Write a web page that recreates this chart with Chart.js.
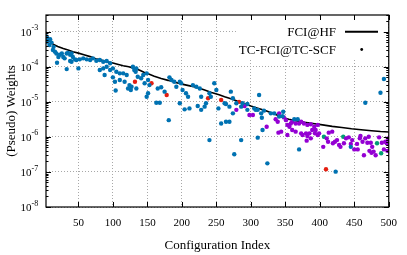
<!DOCTYPE html>
<html lang="en">
<head>
<meta charset="UTF-8">
<title>Weights vs configuration index</title>
<script src="https://cdn.jsdelivr.net/npm/chart.js"></script>
<style>
  body { margin: 0; background: #fff; overflow: hidden; }
  canvas { display: block; }
</style>
</head>
<body>
<canvas id="chart" width="407" height="255"></canvas>
<script>
// FCI@HF reference weights (black line)
const hfIdx = [3,6,10,14,20,28,35,42,50,58,67,75,83,91,100,108,115,123,131,139,145,152,160,170,180,190,200,210,221,232,243,254,262,270,280,290,300,310,322,335,345,355,365,378,390,404,418,432,446,460,475,488,500];
const hfWeight = [7.0e-4,6.0e-4,5.0e-4,4.3e-4,3.8e-4,3.3e-4,3.0e-4,2.7e-4,2.45e-4,2.2e-4,1.95e-4,1.7e-4,1.55e-4,1.4e-4,1.28e-4,1.16e-4,1.07e-4,1.0e-4,9.0e-5,8.0e-5,7.0e-5,6.2e-5,5.4e-5,4.6e-5,4.1e-5,3.6e-5,3.2e-5,2.9e-5,2.6e-5,2.2e-5,1.85e-5,1.6e-5,1.4e-5,1.25e-5,1.05e-5,9.0e-6,7.6e-6,6.6e-6,5.6e-6,4.4e-6,3.7e-6,3.2e-6,2.9e-6,2.6e-6,2.4e-6,2.2e-6,2.0e-6,1.85e-6,1.7e-6,1.6e-6,1.5e-6,1.42e-6,1.38e-6];

// TC-FCI@TC-SCF pseudo weights, [configuration index, weight], split by colour group
const bluePts = [[3,7.5e-4],[4,5.2e-4],[5,6.6e-4],[6,5.8e-4],[8,4.2e-4],[9,6.1e-4],[11,4.9e-4],[13,3.0e-4],[14,3.7e-4],[16,2.7e-4],[18,2.4e-4],[19,1.3e-4],[21,1.9e-4],[23,2.2e-4],[26,2.4e-4],[28,1.9e-4],[30,1.74e-4],[33,2.4e-4],[33,8.6e-5],[35,2.5e-4],[38,2.2e-4],[38,1.46e-4],[40,2.4e-4],[40,1.39e-4],[42,1.9e-4],[45,1.63e-4],[47,1.56e-4],[50,9.0e-5],[52,1.63e-4],[57,1.74e-4],[62,1.63e-4],[67,1.56e-4],[71,1.74e-4],[76,1.49e-4],[81,1.56e-4],[81,8.1e-5],[86,1.39e-4],[86,9.0e-5],[88,5.8e-5],[91,1.46e-4],[91,1.0e-4],[96,1.26e-4],[96,8.1e-5],[100,9.0e-5],[100,5.0e-5],[103,3.75e-5],[104,2.1e-5],[105,7.2e-5],[110,6.5e-5],[110,4.2e-5],[115,6.5e-5],[117,3.75e-5],[120,5.8e-5],[122,2.4e-5],[124,3.0e-5],[126,2.17e-5],[127,2.7e-5],[129,1.0e-4],[131,8.1e-5],[133,7.2e-5],[134,9.0e-5],[134,2.4e-5],[136,5.2e-5],[141,4.7e-5],[144,5.8e-5],[146,3.4e-5],[149,6.5e-5],[149,1.4e-5],[151,4.2e-5],[151,1.75e-5],[153,3.0e-5],[163,9.4e-6],[165,2.4e-5],[168,9.4e-6],[170,2.6e-5],[175,1.95e-5],[181,3.0e-6],[182,5.0e-5],[185,4.2e-5],[189,3.75e-5],[192,2.7e-5],[197,3.75e-5],[197,9.1e-6],[199,3.4e-5],[201,2.17e-5],[204,6.1e-6],[206,1.75e-5],[209,1.4e-5],[211,6.5e-6],[216,3.0e-5],[221,2.7e-5],[223,7.6e-6],[226,2.4e-5],[228,1.4e-5],[228,5.9e-6],[233,7.3e-6],[235,9.1e-6],[240,1.75e-5],[240,8.1e-7],[242,1.4e-5],[247,3.4e-5],[250,2.17e-5],[253,6.5e-6],[257,2.4e-6],[262,9.1e-6],[264,8.7e-6],[264,2.7e-6],[269,7.3e-6],[269,2.7e-6],[271,1.95e-5],[274,1.26e-5],[274,4.7e-6],[276,3.2e-7],[279,9.1e-6],[286,7.3e-6],[286,8.1e-7],[288,9.1e-6],[295,8.7e-6],[295,5.9e-6],[305,6.5e-6],[307,5.9e-6],[310,5.9e-6],[310,9.5e-7],[312,1.57e-5],[315,4.7e-6],[316,3.5e-6],[317,1.58e-6],[319,5.6e-6],[324,1.76e-7],[329,4.7e-6],[334,4.7e-6],[341,3.8e-6],[346,3.9e-6],[347,5.2e-6],[363,3.2e-6],[368,3.2e-6],[370,4.4e-7],[423,1.02e-7],[445,5.2e-7],[466,9.4e-6],[488,1.82e-5],[493,4.5e-5]];
const purplePts = [[279,5.9e-6],[291,7.6e-6],[298,4.2e-6],[303,4.2e-6],[323,1.95e-6],[336,3.2e-6],[339,2.7e-6],[341,4.7e-6],[348,3.6e-6],[351,3.0e-6],[353,2.2e-6],[356,1.95e-6],[358,2.4e-6],[360,2.7e-6],[365,2.4e-6],[370,2.4e-6],[373,2.7e-6],[377,2.4e-6],[382,2.2e-6],[387,2.3e-6],[392,1.95e-6],[397,2.2e-6],[340,1.32e-6],[344,1.41e-6],[353,1.13e-6],[360,1.57e-6],[365,1.41e-6],[373,1.26e-6],[375,1.13e-6],[380,1.26e-6],[382,1.06e-6],[385,1.26e-6],[381,7.8e-7],[387,9.1e-7],[389,1.57e-6],[393,1.26e-6],[394,1.57e-6],[397,1.13e-6],[399,1.26e-6],[405,5.2e-7],[410,9.1e-7],[413,1.32e-6],[418,1.41e-6],[412,7.3e-7],[419,6.6e-7],[422,7.3e-7],[425,8.1e-7],[428,5.9e-7],[430,5.2e-7],[435,6.6e-7],[438,9.1e-7],[442,9.7e-7],[445,6.3e-7],[447,8.1e-7],[450,4.4e-7],[454,6.3e-7],[455,4.4e-7],[458,9.1e-7],[459,1.06e-6],[462,7.3e-7],[466,9.1e-7],[469,6.8e-7],[471,1.01e-6],[474,6.8e-7],[476,5.2e-7],[464,3.0e-7],[472,4.0e-7],[475,3.5e-7],[478,3.8e-7],[481,3.0e-7],[486,9.7e-7],[490,6.8e-7],[495,7.3e-7],[497,6.6e-7],[493,4.4e-7],[498,4.0e-7],[500,4.0e-7],[499,9.1e-7]];
const greenPts = [[406,1.01e-6],[434,1.01e-6],[483,6.6e-7],[489,3.4e-7]];
const redPts = [[132,3.75e-5],[156,3.4e-5],[178,1.57e-5],[238,1.26e-5],[257,1.13e-5],[283,1.0e-5],[290,7.8e-6],[409,1.19e-7]];

const xTicks = [50,100,150,200,250,300,350,400,450,500];
const yTicks = [1e-8,1e-7,1e-6,1e-5,1e-4,1e-3];
const yExp = ['-8','-7','-6','-5','-4','-3'];
const lineName = 'FCI@HF';
const pointName = 'TC-FCI@TC-SCF';

const serif = '"Liberation Serif", "Times New Roman", serif';
Chart.defaults.font.family = serif;

function pts(list) { return list.map(p => ({x: p[0], y: p[1]})); }
function dots(list, colour) {
  return { data: pts(list), backgroundColor: colour, borderWidth: 0, pointRadius: 2.2, order: 0 };
}

const frame = {
  id: 'frame',
  afterDatasetsDraw(chart) {
    const {ctx, chartArea: a, scales: {x, y}} = chart;
    ctx.save();
    // opaque key box
    ctx.fillStyle = '#fff';
    ctx.fillRect(237, a.top + 1, a.right - 238, 43);

    ctx.strokeStyle = '#000';
    ctx.lineWidth = 1;
    ctx.beginPath();
    xTicks.forEach(v => {
      const p = Math.round(x.getPixelForValue(v)) + 0.5;
      ctx.moveTo(p, a.bottom); ctx.lineTo(p, a.bottom - 5);
      ctx.moveTo(p, a.top); ctx.lineTo(p, a.top + 5);
    });
    for (let e = -8; e <= -3; e++) {
      for (let k = 1; k <= 9; k++) {
        const v = k * Math.pow(10, e);
        if (v > y.max * 1.001) break;
        const p = Math.round(y.getPixelForValue(v)) + 0.5;
        const len = k === 1 ? 5 : 2.5;
        ctx.moveTo(a.left, p); ctx.lineTo(a.left + len, p);
        ctx.moveTo(a.right, p); ctx.lineTo(a.right - len, p);
      }
    }
    ctx.stroke();
    ctx.lineWidth = 1.2;
    ctx.strokeRect(a.left, a.top, a.right - a.left, a.bottom - a.top);

    // y tick labels 10^n
    ctx.fillStyle = '#000';
    yTicks.forEach((v, i) => {
      const p = y.getPixelForValue(v);
      ctx.font = '11px ' + serif;
      ctx.textAlign = 'right'; ctx.textBaseline = 'middle';
      ctx.fillText('10', 31.5, p + 1.5);
      ctx.font = '8px ' + serif;
      ctx.textAlign = 'left';
      ctx.fillText(yExp[i], 31.5, p - 3.5);
    });

    // axis titles
    ctx.font = '13px ' + serif;
    ctx.textAlign = 'center'; ctx.textBaseline = 'alphabetic';
    ctx.fillText('Configuration Index', (a.left + a.right) / 2, 249);
    ctx.save();
    ctx.translate(14.5, (a.top + a.bottom) / 2);
    ctx.rotate(-Math.PI / 2);
    ctx.fillText('(Pseudo) Weights', 0, 0);
    ctx.restore();

    // key
    ctx.textAlign = 'right';
    ctx.fillText(lineName, 336, 35.5);
    ctx.fillText(pointName, 336, 54);
    ctx.lineWidth = 2;
    ctx.beginPath();
    ctx.moveTo(345, 31.7); ctx.lineTo(378, 31.7);
    ctx.stroke();
    ctx.beginPath();
    ctx.arc(361.7, 49.5, 1.4, 0, Math.PI * 2);
    ctx.fill();
    ctx.restore();
  }
};

const gridStyle = { color: '#a8a8a8', lineWidth: 1, drawTicks: false };

new Chart(document.getElementById('chart'), {
  type: 'scatter',
  data: {
    datasets: [
      { type: 'line', label: lineName, data: hfIdx.map((v, i) => ({x: v, y: hfWeight[i]})),
        borderColor: '#000', borderWidth: 1.6, pointRadius: 0, fill: false, tension: 0, order: 10 },
      dots(bluePts, '#0072b2'),
      dots(purplePts, '#9400d3'),
      dots(greenPts, '#009e73'),
      dots(redPts, '#e51e10')
    ]
  },
  options: {
    responsive: false,
    animation: false,
    events: [],
    layout: { padding: { top: 15, right: 17, left: 0, bottom: 0 } },
    plugins: { legend: { display: false }, tooltip: { enabled: false } },
    scales: {
      x: {
        type: 'linear', min: 3, max: 500,
        afterBuildTicks(s) { s.ticks = xTicks.map(v => ({value: v})); },
        afterFit(s) { s.height = 48; },
        grid: gridStyle,
        border: { display: false, dash: [1, 2] },
        ticks: { color: '#000', padding: 10, font: { size: 11 }, maxRotation: 0 }
      },
      y: {
        type: 'logarithmic', min: 1e-8, max: 3e-3,
        afterBuildTicks(s) { s.ticks = yTicks.map(v => ({value: v})); },
        afterFit(s) { s.width = 46; },
        grid: gridStyle,
        border: { display: false, dash: [1, 2] },
        ticks: { display: false }
      }
    }
  },
  plugins: [frame]
});
</script>
</body>
</html>
